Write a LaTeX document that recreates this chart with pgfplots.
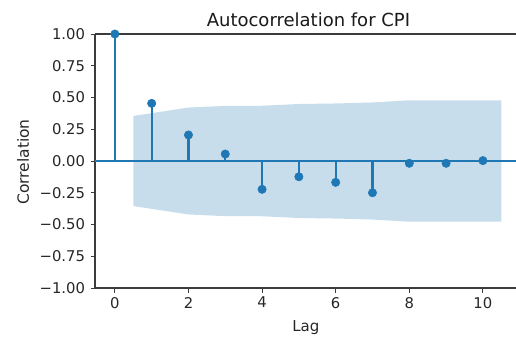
\documentclass[border=0pt]{standalone}
\usepackage{pgfplots}
\pgfplotsset{compat=1.18}
\usepackage{fontspec}
\setmainfont{DejaVu Sans}

\definecolor{C0}{RGB}{31,119,180}
\definecolor{band}{RGB}{199,221,236}
\definecolor{spine}{RGB}{60,60,60}

\begin{document}
\begin{tikzpicture}[x=1pt,y=1pt]
\useasboundingbox (0,0) rectangle (516,338);
\begin{axis}[
  at={(95pt,50pt)}, anchor=south west,
  scale only axis,
  width=421pt, height=254pt,
  xmin=-0.54, xmax=10.9,
  ymin=-1, ymax=1,
  axis x line*=box, axis y line*=left,
  axis line style={spine, line width=1.1pt},
  xtick={0,2,4,6,8,10},
  ytick={-1,-0.75,-0.5,-0.25,0,0.25,0.5,0.75,1},
  yticklabels={−1.00,−0.75,−0.50,−0.25,0.00,0.25,0.50,0.75,1.00},
  xtick pos=bottom, ytick pos=left,
  tick align=outside,
  major tick length=4.5pt,
  tick style={spine, line width=1pt},
  /pgf/number format/assume math mode=true,
  ticklabel style={font=\fontsize{14.8}{16}\selectfont, text=black!85},
  yticklabel style={xshift=-2pt},
  xticklabel style={yshift=-1pt},
  every axis title shift=0pt,
  title={Autocorrelation for CPI},
  title style={at={(rel axis cs:0.507,1.028)}, anchor=base, font=\fontsize{18}{20}\selectfont, text=black!90},
  xlabel={Lag},
  xlabel style={at={(rel axis cs:0.501,-0.172)}, anchor=base, font=\fontsize{15}{17}\selectfont, text=black!85},
  ylabel={Correlation},
  ylabel style={at={(rel axis cs:-0.171,0.496)}, anchor=center, rotate=0, font=\fontsize{15.5}{17}\selectfont, text=black!85},
  clip=false,
]
% 95% confidence band (Bartlett), centred at zero
\addplot[fill=band, draw=none] coordinates {
  (0.5,0.355) (2,0.421) (3,0.434) (4,0.435) (5,0.449) (6,0.453)
  (7,0.461) (8,0.478) (9,0.478) (10.5,0.478)
  (10.5,-0.478) (9,-0.478) (8,-0.478) (7,-0.461) (6,-0.453) (5,-0.449)
  (4,-0.435) (3,-0.434) (2,-0.421) (0.5,-0.355)
} -- cycle;
% zero reference line
\addplot[C0, line width=2pt] coordinates {(-0.54,0) (10.9,0)};
% autocorrelation stems
\addplot[ycomb, C0, line width=2.2pt, mark=*, mark size=4.2pt, mark options={fill=C0, draw=C0, line width=0.5pt}] coordinates {
  (0,1.0) (1,0.454) (2,0.205) (3,0.055) (4,-0.223) (5,-0.124)
  (6,-0.168) (7,-0.250) (8,-0.018) (9,-0.018) (10,0.003)
};
\end{axis}
\end{tikzpicture}
\end{document}
